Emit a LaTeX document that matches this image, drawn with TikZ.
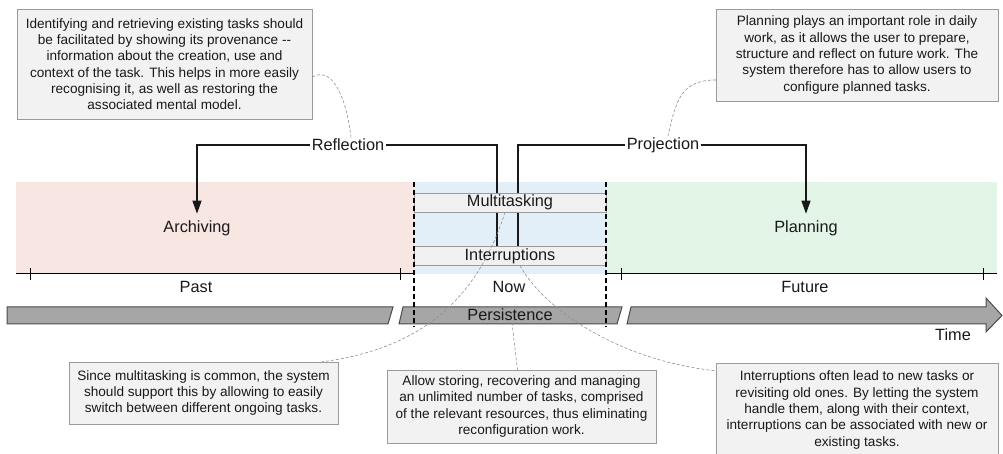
\documentclass[tikz,border=0pt]{standalone}
\usepackage{fontspec}
\setmainfont{Liberation Sans}
\usetikzlibrary{arrows.meta}
\definecolor{pastbg}{HTML}{F8E6E3}
\definecolor{nowbg}{HTML}{E3EFF8}
\definecolor{futbg}{HTML}{E3F5E6}
\definecolor{notebg}{HTML}{F2F2F2}
\definecolor{noteln}{HTML}{9B9B9B}
\definecolor{barbg}{HTML}{A6A6A6}
\definecolor{barln}{HTML}{4A4A4A}
\definecolor{hintln}{HTML}{8F8F8F}
\begin{document}
\begin{tikzpicture}[x=1bp,y=-1bp,
  every node/.style={text=black!90},
  lbl/.style={font=\fontsize{16.3bp}{19bp}\selectfont,inner sep=1.5bp},
  note/.style={draw=noteln,fill=notebg,align=center,inner sep=0pt,
    font=\fontsize{13.6bp}{16.3bp}\selectfont},
  slot/.style={draw=noteln,fill=black!6,minimum width=192bp,minimum height=19bp,
    inner sep=0pt,font=\fontsize{16.3bp}{19bp}\selectfont},
  flow/.style={draw=black!90,line width=1.3bp,-{Triangle[width=9bp,length=13bp]}},
  hint/.style={draw=hintln,line width=.6bp,dash pattern=on 3bp off 2bp}]
\useasboundingbox (0,0) rectangle (1003,454);
% the three phases
\fill[pastbg] (16,182) rectangle (414,273);
\fill[nowbg] (414,182) rectangle (606,274);
\fill[futbg] (606,182) rectangle (997,273);
\draw[line width=1bp] (16,274) -- (413,274) (607,274) -- (997,274);
\foreach \tx in {30,400,621,983}
  \draw[line width=1bp] (\tx,268) -- (\tx,280);

\node[slot] (inter) at (510,256) {Interruptions};
\node[lbl] (refl) at (348,145) {Reflection};
\node[lbl] (proj) at (663,145) {Projection};
\node[lbl] (archiving) at (197,228) {Archiving};
\node[lbl] (planning) at (806,228) {Planning};
\draw[flow] ([xshift=-13bp]inter.north) |- (refl) -| ([yshift=5bp]archiving.north);
\draw[flow] ([xshift=8bp]inter.north) |- (proj) -| ([yshift=5bp]planning.north);
\node[slot] (multi) at (510,202.5) {Multitasking};

% time arrow, broken twice
\filldraw[fill=barbg,draw=barln,line width=1bp]
  (7,307) -- (393,307) -- (388,324) -- (7,324) -- cycle
  (403,307) -- (622,307) -- (617,324) -- (399,324) -- cycle
  (631,307) -- (986,307) -- (986,298) -- (1002,315.5) -- (986,332) -- (986,324) -- (627,324) -- cycle;
\draw[line width=1.3bp,dash pattern=on 5bp off 3bp] (414,182) -- (414,327) (606,182) -- (606,327);

\node[lbl] (past) at (196,287) {Past};
\node[lbl] (now) at (509,287) {Now};
\node[lbl] (future) at (805,287) {Future};
\node[lbl] (pers) at (510,315) {Persistence};
\node[lbl] (time) at (953,335) {Time};

% notes
\node[note,minimum width=295bp,minimum height=110bp] (note1) at (164.5,64)
  {Identifying and retrieving existing tasks should\\
   be facilitated by showing its provenance {-}{-}\\
   information about the creation, use and\\
   context of the task. This helps in more easily\\
   recognising it, as well as restoring the\\
   associated mental model.};
\node[note,minimum width=282bp,minimum height=92bp] (note2) at (857,55)
  {Planning plays an important role in daily\\
   work, as it allows the user to prepare,\\
   structure and reflect on future work. The\\
   system therefore has to allow users to\\
   configure planned tasks.};
\node[note,minimum width=269bp,minimum height=62bp] (note3) at (203.5,393)
  {Since multitasking is common, the system\\
   should support this by allowing to easily\\
   switch between different ongoing tasks.};
\node[note,minimum width=269bp,minimum height=73bp] (note4) at (521.5,406.5)
  {Allow storing, recovering and managing\\
   an unlimited number of tasks, comprised\\
   of the relevant resources, thus eliminating\\
   reconfiguration work.};
\node[note,minimum width=282bp,minimum height=94bp] (note5) at (857,410)
  {Interruptions often lead to new tasks or\\
   revisiting old ones. By letting the system\\
   handle them, along with their context,\\
   interruptions can be associated with new or\\
   existing tasks.};

\draw[hint] ([yshift=-13bp]note1.east) .. controls +(22,-12) and +(-4,-35) .. ([xshift=3bp]refl.north);
\draw[hint] ([yshift=-25bp]note2.west) .. controls +(-35,0) and +(8,-35) .. ([xshift=5bp]proj.north);
\draw[hint] ([xshift=-5bp]multi.south) .. controls +(-30,95) and +(90,-12) .. ([xshift=-16bp]note3.north east);
\draw[hint] ([xshift=2bp]pers.south) -- ([xshift=-4bp]note4.north);
\draw[hint] ([xshift=10bp]inter.south) .. controls +(25,45) and +(-95,-10) .. ([yshift=-8bp]note5.north west);
\end{tikzpicture}
\end{document}
